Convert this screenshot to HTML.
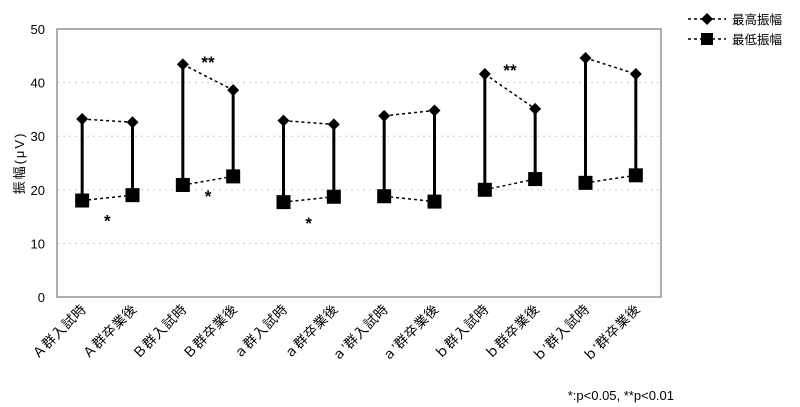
<!DOCTYPE html>
<html><head><meta charset="utf-8"><style>
body{margin:0;background:#fff;}
svg{display:block;font-family:"Liberation Sans","Noto Sans CJK JP",sans-serif;}
</style></head><body>
<svg id="c" width="800" height="407"></svg>
<script>
const categories=["Ａ群入試時","Ａ群卒業後","Ｂ群入試時","Ｂ群卒業後","ａ群入試時","ａ群卒業後","ａ’群入試時","ａ’群卒業後","ｂ群入試時","ｂ群卒業後","ｂ’群入試時","ｂ’群卒業後"];
const highValues=[33.2,32.6,43.4,38.6,32.9,32.2,33.8,34.8,41.6,35.1,44.6,41.6];
const lowValues=[18.0,19.0,20.9,22.5,17.7,18.7,18.8,17.8,20.0,22.0,21.3,22.7];
const yTicks=[0,10,20,30,40,50];
const sigMarks=[{pair:0,y:14.5,t:"*"},{pair:1,y:44,t:"**"},{pair:1,y:19,t:"*"},{pair:2,y:14,t:"*"},{pair:4,y:42.5,t:"**"}];
const NS="http://www.w3.org/2000/svg";
const svg=document.getElementById('c');
const L=57,R=661,T=29,B=297;
const x=i=>L+(R-L)/categories.length*(i+0.5);
const y=v=>B-(B-T)*v/50;
function el(tag,a,txt){const e=document.createElementNS(NS,tag);for(const k in a)e.setAttribute(k,a[k]);if(txt!==undefined)e.textContent=txt;svg.appendChild(e);return e;}
yTicks.forEach(t=>{
 if(t>0&&t<50){const g=el('line',{x1:L,x2:R,y1:y(t),y2:y(t),stroke:'#ccc','stroke-dasharray':'2,4'});
 
 }
 const lb=el('text',{x:L-12,y:y(t)+5,'text-anchor':'end','font-size':13},t);
 
 
});
const frame=el('rect',{x:L,y:T,width:R-L,height:B-T,fill:'none',stroke:'#777','stroke-width':1.2});


const yt=el('text',{transform:`translate(24,${(T+B)/2}) rotate(-90)`,'text-anchor':'middle','font-size':13,'letter-spacing':2},'振幅(μV)');


for(let p=0;p<categories.length;p+=2){
 [highValues,lowValues].forEach((arr,k)=>{
  const d=el('line',{x1:x(p),x2:x(p+1),y1:y(arr[p]),y2:y(arr[p+1]),stroke:'#000','stroke-width':1.5,'stroke-dasharray':'3,3'});
  
  
 });
}
categories.forEach((c,i)=>{
 const cx=x(i);
 const v=el('line',{x1:cx,x2:cx,y1:y(highValues[i]),y2:y(lowValues[i]),stroke:'#000','stroke-width':3});
 
 
 const hy=y(highValues[i]);
 const h=el('polygon',{points:`${cx},${hy-6} ${cx+6},${hy} ${cx},${hy+6} ${cx-6},${hy}`,fill:'#000'});
 
 
 const ly=y(lowValues[i]);
 const s=el('rect',{x:cx-7,y:ly-7,width:14,height:14,fill:'#000'});
 
 
 const lb=el('text',{transform:`translate(${cx+5},${B+13}) rotate(-45)`,'text-anchor':'end','font-size':13.5,'letter-spacing':0.5},c);
 
 
});
sigMarks.forEach((m,k)=>{
 const t=el('text',{x:(x(m.pair*2)+x(m.pair*2+1))/2,y:y(m.y)+7,'text-anchor':'middle','font-size':17,'font-weight':'bold'},m.t);
 
 
});
[['最高振幅',19,0],['最低振幅',39,1]].forEach(([t,ly,k])=>{
 const l=el('line',{x1:688,x2:726,y1:ly,y2:ly,stroke:'#000','stroke-width':1.5,'stroke-dasharray':'3,3'});
 
 
 const mk=k?el('rect',{x:701,y:ly-6,width:12,height:12,fill:'#000'}):el('polygon',{points:`707,${ly-6} 713,${ly} 707,${ly+6} 701,${ly}`,fill:'#000'});
 
 
 const tx=el('text',{x:732,y:ly+5,'font-size':12.5},t);
 
 
});
const note=el('text',{x:674,y:400,'text-anchor':'end','font-size':13},'*:p<0.05, **p<0.01');


</script>
</body></html>
